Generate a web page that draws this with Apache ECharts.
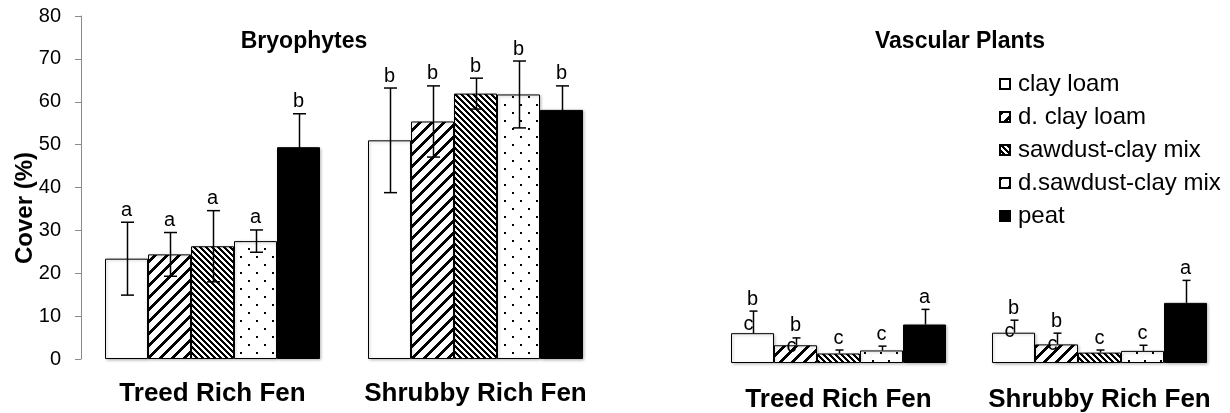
<!DOCTYPE html>
<html>
<head>
<meta charset="utf-8">
<script src="https://cdn.jsdelivr.net/npm/echarts@6/dist/echarts.min.js"></script>
<style>
  html, body { margin: 0; padding: 0; background: #fff; }
  #chart { width: 1230px; height: 413px; }
</style>
</head>
<body>
<div id="chart"></div>
<script>
const categories = ['Treed Rich Fen', 'Shrubby Rich Fen'];
const treatments = ['clay loam', 'd. clay loam', 'sawdust-clay mix', 'd.sawdust-clay mix', 'peat'];

// Bryophytes: one [treed, shrubby] pair per treatment
const bryoMean = [[23.4, 51.0], [24.4, 55.4], [26.3, 61.9], [27.5, 61.7], [49.4, 58.1]];
const bryoSE = [[8.5, 12.2], [5.1, 8.3], [8.3, 3.6], [2.6, 7.8], [7.8, 5.6]];
const bryoLetters = [['a', 'b'], ['a', 'b'], ['a', 'b'], ['a', 'b'], ['b', 'b']];

// Vascular plants
const vascMean = [[6.9, 7.0], [4.1, 4.3], [2.2, 2.4], [2.9, 2.8], [8.9, 13.9]];
const vascSE = [[5.1, 2.9], [1.7, 2.6], [0.8, 0.6], [1.0, 1.3], [3.5, 5.2]];
const vascLetters = [['b', 'b'], ['b', 'b'], ['c', 'c'], ['c', 'c'], ['a', 'a']];
const vascLetters2 = [['c', 'c'], ['c', 'c'], ['', ''], ['', ''], ['', '']];
const vascLetters2At = [[6.9, 5.2], [1.8, 2.2], [0, 0], [0, 0], [0, 0]];

const yTicks = { min: 0, max: 80, interval: 10 };

const FONT = '"Liberation Sans", Arial, sans-serif';
const BAR_W = 43;

function tile(size, fn) {
  const c = document.createElement('canvas');
  c.width = size;
  c.height = size;
  const ctx = c.getContext('2d');
  ctx.fillStyle = '#fff';
  ctx.fillRect(0, 0, size, size);
  ctx.fillStyle = '#000';
  for (let y = 0; y < size; y++) {
    for (let x = 0; x < size; x++) {
      if (fn(x, y)) ctx.fillRect(x, y, 1, 1);
    }
  }
  return { image: c, repeat: 'repeat' };
}

const fills = [
  '#fff',
  tile(12, (x, y) => (x + y) % 12 < 4),
  tile(6, (x, y) => ((x - y) % 6 + 6) % 6 < 3),
  tile(16, (x, y) => (x < 2 && y < 2) || (x >= 8 && x < 10 && y >= 8 && y < 10)),
  '#000'
];

function errRenderer(idx, letters, full, capW, letters2, letters2At) {
  return function (params, api) {
    const cat = api.value(0), mean = api.value(1), se = api.value(2);
    const dx = (idx - 2) * BAR_W;
    const top = api.coord([cat, mean + se]);
    const mid = api.coord([cat, mean]);
    const bot = api.coord([cat, Math.max(mean - se, 0)]);
    const x = Math.round(top[0] + dx) + 0.5;
    const ls = { stroke: '#000', lineWidth: 1.5 };
    const txt = (t, tx, ty, va) => ({
      type: 'text', x: tx, y: ty,
      style: {
        text: t, fill: '#000', font: '20px ' + FONT,
        textAlign: 'center', align: 'center',
        textVerticalAlign: va, verticalAlign: va
      }
    });
    const kids = [
      { type: 'line', shape: { x1: x, y1: top[1], x2: x, y2: full ? bot[1] : mid[1] }, style: ls },
      { type: 'line', shape: { x1: x - capW, y1: top[1], x2: x + capW, y2: top[1] }, style: ls },
      txt(letters[idx][params.dataIndex], x - 1, top[1] - 2, 'bottom')
    ];
    if (full) {
      kids.push({ type: 'line', shape: { x1: x - capW, y1: bot[1], x2: x + capW, y2: bot[1] }, style: ls });
    }
    if (letters2 && letters2[idx][params.dataIndex]) {
      const p = api.coord([cat, letters2At[idx][params.dataIndex]]);
      kids.push(txt(letters2[idx][params.dataIndex], x - 5, p[1] + 1, 'bottom'));
    }
    return { type: 'group', children: kids };
  };
}

const series = [];
[0, 1].forEach(function (p) {
  const means = p === 0 ? bryoMean : vascMean;
  const ses = p === 0 ? bryoSE : vascSE;
  treatments.forEach(function (name, i) {
    series.push({
      type: 'bar',
      name: name,
      xAxisIndex: p,
      yAxisIndex: p,
      data: means[i],
      barWidth: BAR_W,
      barGap: '0%',
      itemStyle: {
        color: fills[i],
        borderColor: '#000',
        borderWidth: 1,
        shadowColor: 'rgba(0,0,0,0.25)',
        shadowBlur: 3,
        shadowOffsetX: 1,
        shadowOffsetY: 1
      },
      z: 2
    });
  });
  treatments.forEach(function (name, i) {
    series.push({
      type: 'custom',
      xAxisIndex: p,
      yAxisIndex: p,
      z: 5,
      silent: true,
      renderItem: p === 0
        ? errRenderer(i, bryoLetters, true, 6.5, null, null)
        : errRenderer(i, vascLetters, false, 4, vascLetters2, vascLetters2At),
      data: means[i].map((m, c) => [c, m, ses[i][c]])
    });
  });
});

const chart = echarts.init(document.getElementById('chart'));
chart.setOption({
  animation: false,
  backgroundColor: '#fff',
  textStyle: { fontFamily: FONT },
  grid: [
    { left: 81, top: 16, width: 526, height: 343 },
    { left: 708, top: 17, width: 523, height: 346 }
  ],
  xAxis: [0, 1].map(p => ({
    type: 'category',
    gridIndex: p,
    data: categories,
    axisLine: { show: false },
    axisTick: { show: false },
    axisLabel: {
      interval: 0,
      color: '#000',
      fontSize: 26,
      fontWeight: 'bold',
      fontFamily: FONT,
      margin: p === 0 ? 22 : 24
    }
  })),
  yAxis: [
    {
      type: 'value',
      gridIndex: 0,
      min: yTicks.min,
      max: yTicks.max,
      interval: yTicks.interval,
      splitLine: { show: false },
      axisLine: { show: true, lineStyle: { color: '#8a8a8a', width: 1 } },
      axisTick: { show: true, length: 6, lineStyle: { color: '#8a8a8a' } },
      axisLabel: { color: '#000', fontSize: 20, fontFamily: FONT, margin: 20 }
    },
    {
      type: 'value',
      gridIndex: 1,
      min: yTicks.min,
      max: yTicks.max,
      interval: yTicks.interval,
      show: false,
      splitLine: { show: false }
    }
  ],
  legend: {
    data: treatments,
    orient: 'vertical',
    left: 999,
    top: 72,
    padding: 0,
    icon: 'rect',
    itemWidth: 10,
    itemHeight: 10,
    itemGap: 9,
    selectedMode: false,
    textStyle: { color: '#000', fontSize: 24, lineHeight: 24, fontFamily: FONT, padding: [0, 0, 0, 3] }
  },
  graphic: [
    {
      type: 'text', x: 304, y: 42,
      style: { text: 'Bryophytes', font: 'bold 23px ' + FONT, fill: '#000',
        textAlign: 'center', align: 'center', textVerticalAlign: 'middle', verticalAlign: 'middle' }
    },
    {
      type: 'text', x: 960, y: 42,
      style: { text: 'Vascular Plants', font: 'bold 23px ' + FONT, fill: '#000',
        textAlign: 'center', align: 'center', textVerticalAlign: 'middle', verticalAlign: 'middle' }
    },
    {
      type: 'text', x: 25, y: 208, rotation: Math.PI / 2,
      style: { text: 'Cover (%)', font: 'bold 24px ' + FONT, fill: '#000',
        textAlign: 'center', align: 'center', textVerticalAlign: 'middle', verticalAlign: 'middle' }
    }
  ],
  series: series
});
</script>
</body>
</html>
